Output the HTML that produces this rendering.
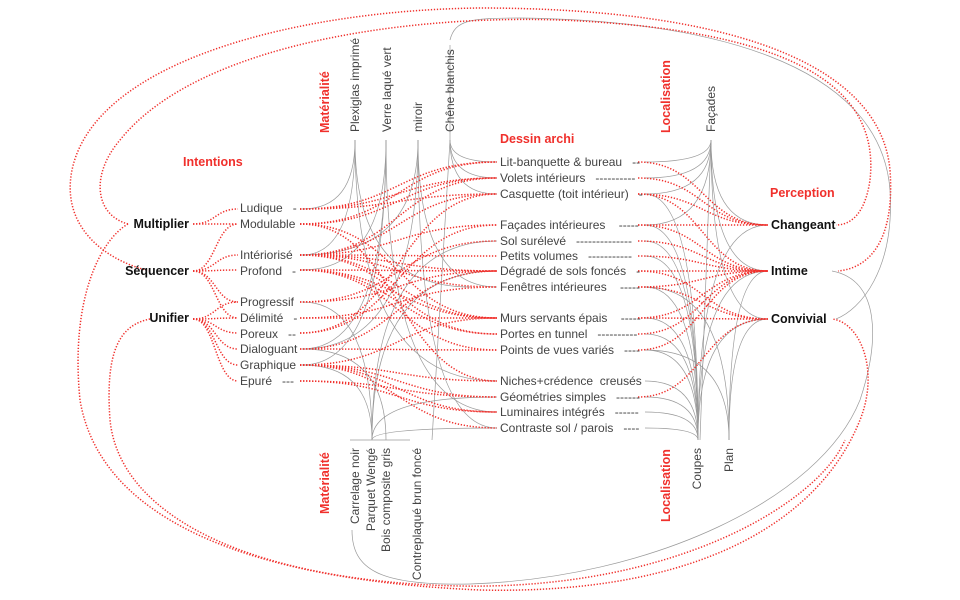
<!DOCTYPE html>
<html><head><meta charset="utf-8">
<style>
html,body{margin:0;padding:0;background:#fff;}
svg{display:block;}
text{font-family:"Liberation Sans",Arial,sans-serif;}
.it{font-size:12px;fill:#444;}
.b{font-size:12.5px;font-weight:bold;fill:#111;}
.h{font-size:12.5px;font-weight:bold;fill:#f0302c;}
.r{fill:none;stroke:#f0302c;stroke-width:1.5;stroke-dasharray:1.3 1.7;}
.g{fill:none;stroke:#9a9a9a;stroke-width:0.7;}
</style></head>
<body>
<svg id="s" width="960" height="600" viewBox="0 0 960 600" xmlns="http://www.w3.org/2000/svg">
<g id="gl"></g>
<g id="rl"></g>
<text class="h" x="183" y="166">Intentions</text>
<text class="h" x="500" y="143">Dessin archi</text>
<text class="h" x="770" y="197">Perception</text>
<text class="h" transform="translate(329,133) rotate(-90)">Matérialité</text>
<text class="h" transform="translate(329,514) rotate(-90)">Matérialité</text>
<text class="h" transform="translate(670,133) rotate(-90)">Localisation</text>
<text class="h" transform="translate(670,522) rotate(-90)">Localisation</text>
<text class="b" x="189" y="228" text-anchor="end">Multiplier</text>
<text class="b" x="189" y="275" text-anchor="end">Séquencer</text>
<text class="b" x="189" y="322" text-anchor="end">Unifier</text>
<text class="it" x="240" y="212">Ludique&#160;&#160;&#160;-</text>
<text class="it" x="240" y="228">Modulable</text>
<text class="it" x="240" y="259">Intériorisé</text>
<text class="it" x="240" y="275">Profond&#160;&#160;&#160;-</text>
<text class="it" x="240" y="306">Progressif</text>
<text class="it" x="240" y="322">Délimité&#160;&#160;&#160;-</text>
<text class="it" x="240" y="338">Poreux&#160;&#160;&#160;--</text>
<text class="it" x="240" y="353">Dialoguant</text>
<text class="it" x="240" y="369">Graphique</text>
<text class="it" x="240" y="385">Epuré&#160;&#160;&#160;---</text>
<g class="it">
<text x="500" y="166">Lit-banquette &amp; bureau&#160;&#160;&#160;--</text>
<text x="500" y="182">Volets intérieurs&#160;&#160;&#160;----------</text>
<text x="500" y="198">Casquette (toit intérieur)&#160;&#160;&#160;-</text>
<text x="500" y="229">Façades intérieures&#160;&#160;&#160;&#160;-----</text>
<text x="500" y="245">Sol surélevé&#160;&#160;&#160;--------------</text>
<text x="500" y="260">Petits volumes&#160;&#160;&#160;-----------</text>
<text x="500" y="275">Dégradé de sols foncés&#160;&#160;&#160;-</text>
<text x="500" y="291">Fenêtres intérieures&#160;&#160;&#160;&#160;-----</text>
<text x="500" y="322">Murs servants épais&#160;&#160;&#160;&#160;-----</text>
<text x="500" y="338">Portes en tunnel&#160;&#160;&#160;----------</text>
<text x="500" y="354">Points de vues variés&#160;&#160;&#160;----</text>
<text x="500" y="385">Niches+crédence&#160;&#160;creusés</text>
<text x="500" y="401">Géométries simples&#160;&#160;&#160;------</text>
<text x="500" y="416">Luminaires intégrés&#160;&#160;&#160;------</text>
<text x="500" y="432">Contraste sol / parois&#160;&#160;&#160;----</text>
</g>
<text class="b" x="771" y="229">Changeant</text>
<text class="b" x="771" y="275">Intime</text>
<text class="b" x="771" y="323">Convivial</text>
<g class="it">
<text transform="translate(359,132) rotate(-90)">Plexiglas imprimé</text>
<text transform="translate(391,132) rotate(-90)">Verre laqué vert</text>
<text transform="translate(422,132) rotate(-90)">miroir</text>
<text transform="translate(454,132) rotate(-90)">Chêne blanchis</text>
<text transform="translate(715,132) rotate(-90)">Façades</text>
<text transform="translate(359,448) rotate(-90)" text-anchor="end">Carrelage noir</text>
<text transform="translate(375,448) rotate(-90)" text-anchor="end">Parquet Wengé</text>
<text transform="translate(390,448) rotate(-90)" text-anchor="end">Bois composite gris</text>
<text transform="translate(421,448) rotate(-90)" text-anchor="end">Contreplaqué brun foncé</text>
<text transform="translate(701,448) rotate(-90)" text-anchor="end">Coupes</text>
<text transform="translate(733,448) rotate(-90)" text-anchor="end">Plan</text>
</g>
</svg>
<script>
var NS="http://www.w3.org/2000/svg";
function P(g,d,c){var p=document.createElementNS(NS,"path");p.setAttribute("d",d);p.setAttribute("class",c);document.getElementById(g).appendChild(p);}
function S(x1,y1,x2,y2,c,g){var m=(x1+x2)/2;P(g||"rl","M"+x1+" "+y1+" C"+m+" "+y1+" "+m+" "+y2+" "+x2+" "+y2,c||"r");}
function V(x,y,x2,y2){P("gl","M"+x+" "+y+" Q"+x+" "+y2+" "+x2+" "+y2,"g");}
var I={lu:209,mo:224,in:255,pr:270,pg:302,de:318,po:333,di:349,gr:365,ep:381};
var D={lit:162,vol:178,cas:194,fac:225,sol:241,pet:256,deg:271,fen:287,mur:318,por:334,poi:350,nic:381,geo:397,lum:412,con:428};
var Pc={ch:225,it:271,cv:319};
S(193,224,238,I.lu);S(193,224,238,I.mo);
["in","pr","pg","de","mo"].forEach(function(k){S(193,271,238,I[k]);});
["pg","de","po","di","gr","ep"].forEach(function(k){S(193,319,238,I[k]);});
var ID={lu:["lit","vol","cas"],mo:["lit","vol","nic","mur"],in:["vol","cas","fac","pet","deg","fen","mur","por"],pr:["deg","mur","por","poi"],pg:["deg","sol"],de:["mur","fen"],po:["cas","fac"],di:["poi","deg"],gr:["nic","geo","lum","con","mur"],ep:["geo","lum"]};
for(var k in ID)ID[k].forEach(function(d){S(300,I[k],497,D[d]);});
var DP={lit:["ch"],vol:["ch"],cas:["ch","it"],fac:["ch","it"],sol:["it"],pet:["it"],deg:["it","cv"],fen:["it","cv"],mur:["it","cv"],por:["it"],poi:["it"],geo:["cv"]};
for(var k in DP)DP[k].forEach(function(p){S(638,D[k],768,Pc[p]);});
V(355,140,302,I.lu);V(355,140,302,I.in);V(355,140,470,D.fen);V(355,140,497,D.nic);
V(386,140,302,I.pr);V(386,140,302,I.gr);V(386,140,497,D.lum);V(386,140,302,I.di);
V(418,140,302,I.in);V(418,140,302,I.di);V(418,140,497,D.fen);V(418,140,497,D.con);
V(450,140,497,D.lit);V(450,140,497,D.vol);V(450,140,497,D.cas);
P("gl","M432 440 L450 140","g");
V(372,440,302,I.pg);V(372,440,302,I.gr);V(372,440,497,D.sol);V(372,440,497,D.deg);V(372,440,497,D.geo);V(372,440,497,D.con);V(386,440,302,I.di);
P("gl","M350 440 L410 440","g");
[D.lit,D.vol,D.cas,D.fac].forEach(function(y){V(711,140,645,y);});
V(711,140,768,Pc.ch);V(711,140,768,Pc.it);V(711,140,768,Pc.cv);
P("gl","M711 140 L700 440","g");
[D.cas,D.fac,D.sol,D.pet,D.fen,D.mur,D.por,D.poi,D.nic,D.geo,D.lum,D.con].forEach(function(y){V(698,440,645,y);});
V(698,440,768,Pc.ch);V(698,440,768,Pc.it);V(698,440,768,Pc.cv);
V(729,440,768,Pc.it);V(729,440,645,D.poi);V(729,440,645,D.fen);V(729,440,768,Pc.cv);
P("rl","M128 224 C95 215 90 175 120 140 C200 40 420 15 560 20 C800 30 880 90 870 180 C865 215 850 225 836 225","r");
P("rl","M150 271 C110 262 60 230 72 170 C95 60 300 10 480 8 C720 8 880 60 890 170 C895 240 870 268 838 271","r");
P("rl","M128 224 C100 240 70 300 80 400 C100 520 250 580 480 590 C700 595 820 520 860 420 C880 370 860 322 832 319","r");
P("rl","M150 319 C120 325 105 350 110 420 C120 520 260 582 460 586 C680 590 820 500 845 440","r");
P("gl","M450 40 C455 20 470 18 520 18 C700 20 880 60 890 190 C895 270 860 310 836 319","g");
P("gl","M832 271 C880 280 880 340 860 400 C820 500 650 578 470 584 C380 586 352 570 352 530","g");
P("gl","M450 140 C450 120 450 60 450 45","g");
</script>
</body></html>
